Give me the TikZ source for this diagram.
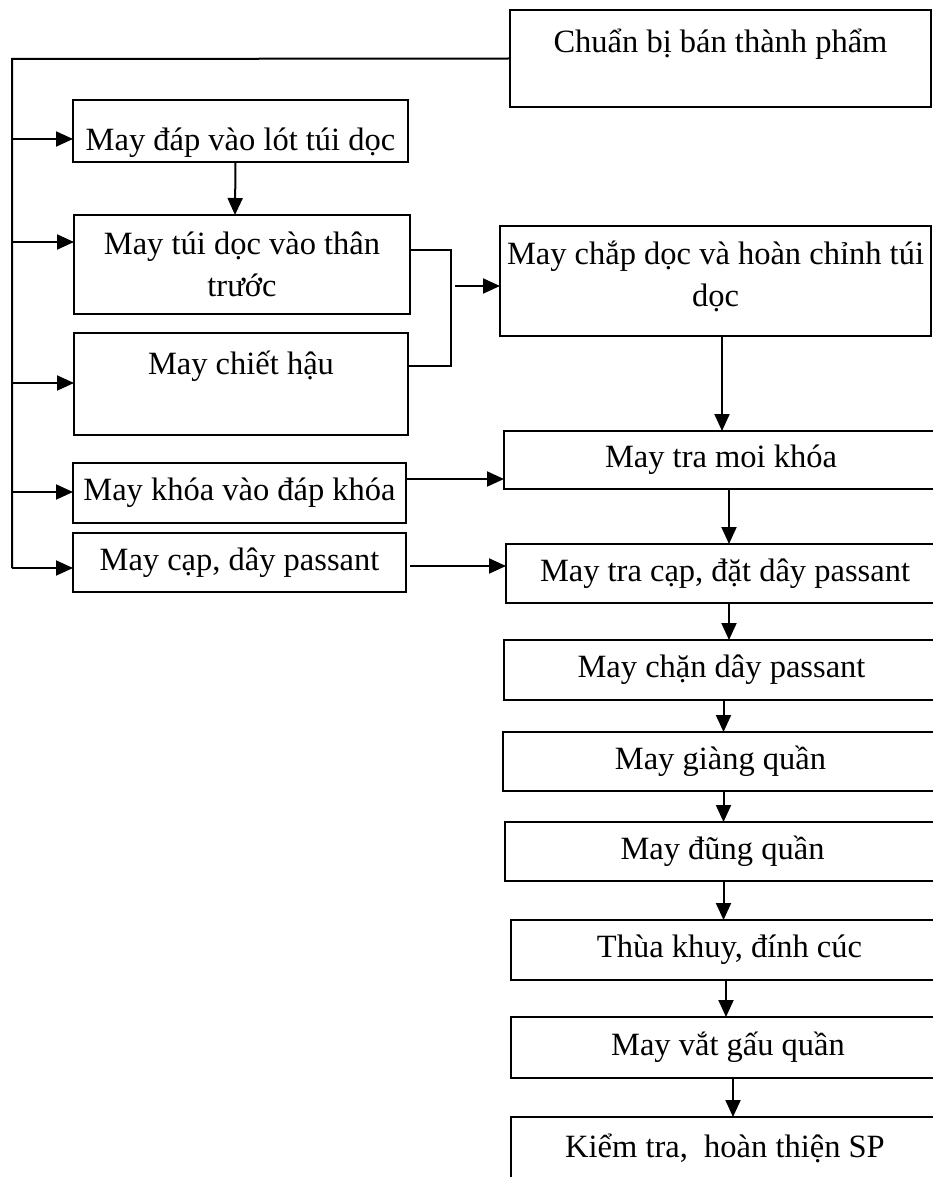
\documentclass[tikz,border=0pt]{standalone}
\usepackage{fontspec}
\setmainfont{Liberation Serif}
\usetikzlibrary{arrows.meta}
\newcommand{\shiftline}[2]{\raisebox{#1}[\height][\depth]{#2}}
\begin{document}
\begin{tikzpicture}[x=1pt,y=-1pt,
  box/.style={draw,line width=2pt,inner sep=0pt,outer sep=0pt,align=center,
    font=\fontsize{32.5}{42}\selectfont},
  conn/.style={line width=2pt},
  arr/.style={line width=2pt,-{Triangle[length=17pt,width=15pt]}}]
\useasboundingbox (0,0) rectangle (933,1177);
\clip (0,0) rectangle (933,1177);
% boxes
\node[box,minimum width=421pt,minimum height=97pt] (chuan) at (720.5,58.5) {\shiftline{-3pt}{Chuẩn bị bán thành phẩm}\\\mbox{}};
\node[box,minimum width=335pt,minimum height=62pt] (dap) at (240.5,131) {\shiftline{-12pt}{May đáp vào lót túi dọc}};
\node[box,minimum width=336pt,minimum height=99pt] (tui) at (242,264.5) {May túi dọc vào thân\\trước};
\node[box,minimum width=334pt,minimum height=102pt] (chiet) at (241,384) {May chiết hậu\\\mbox{}};
\node[box,minimum width=333pt,minimum height=60pt] (khoa) at (239.5,493) {May khóa vào đáp khóa};
\node[box,minimum width=333pt,minimum height=59pt] (cap) at (239.5,562.5) {May cạp, dây passant};
\node[box,minimum width=431pt,minimum height=110pt] (chap) at (715.5,281) {\shiftline{5pt}{May chắp dọc và hoàn chỉnh túi}\\\shiftline{5pt}{dọc}};
\node[box,minimum width=434pt,minimum height=58pt] (moikhoa) at (721,460) {May tra moi khóa};
\node[box,minimum width=438pt,minimum height=59pt] (tracap) at (725,573.5) {May tra cạp, đặt dây passant};
\node[box,minimum width=435pt,minimum height=60pt] (chan) at (721.5,670) {May chặn dây passant};
\node[box,minimum width=435pt,minimum height=59pt] (giang) at (720.5,761.5) {May giàng quần};
\node[box,minimum width=435pt,minimum height=59pt] (dung) at (722.5,851.5) {May đũng quần};
\node[box,minimum width=437pt,minimum height=60pt] (thua) at (729.5,950) {Thùa khuy, đính cúc};
\node[box,minimum width=434pt,minimum height=61pt] (vat) at (728,1047.5) {May vắt gấu quần};
\node[box,minimum width=428pt,minimum height=62pt] (kiem) at (725,1148) {Kiểm tra,~ hoàn thiện SP};
% trunk
\coordinate (tl) at (12,59);
\coordinate (bl) at (12,568);
\draw[conn] (chuan.west) -- (tl) -- (bl);
\coordinate (t1) at (12,139);
\coordinate (t2) at (12,242);
\coordinate (t3) at (12,383);
\coordinate (t4) at (12,492);
\draw[arr] (t1) -- (t1 -| dap.west);
\draw[arr] (t2) -- (t2 -| tui.west);
\draw[arr] (t3) -- (t3 -| chiet.west);
\draw[arr] (t4) -- (t4 -| khoa.west);
\draw[arr] (bl) -- (bl -| cap.west);
% dap -> tui
\draw[arr] ([xshift=-5pt]dap.south) -- ([xshift=-7pt]tui.north);
% bracket
\coordinate (b1) at (451,250);
\coordinate (b2) at (451,366);
\coordinate (bm) at (455,286);
\draw[conn] (b1 -| tui.east) -- (b1) -- (b2) -- (b2 -| chiet.east);
\draw[arr] (bm) -- (bm -| chap.west);
% khoa, cap -> right
\coordinate (k1) at (0,479);
\draw[arr] (k1 -| khoa.east) -- (k1 -| moikhoa.west);
\coordinate (c1) at (410,566);
\draw[arr] (c1) -- (c1 -| tracap.west);
% vertical chain
\coordinate (v1) at (722,0);
\draw[arr] (v1 |- chap.south) -- (v1 |- moikhoa.north);
\coordinate (v2) at (729,0);
\draw[arr] (v2 |- moikhoa.south) -- (v2 |- tracap.north);
\draw[arr] (v2 |- tracap.south) -- (v2 |- chan.north);
\coordinate (v3) at (723.5,0);
\draw[arr] (v3 |- chan.south) -- (v3 |- giang.north);
\draw[arr] (v3 |- giang.south) -- (v3 |- dung.north);
\draw[arr] (v3 |- dung.south) -- (v3 |- thua.north);
\coordinate (v4) at (726,0);
\draw[arr] (v4 |- thua.south) -- (v4 |- vat.north);
\coordinate (v5) at (733,0);
\draw[arr] (v5 |- vat.south) -- (v5 |- kiem.north);
\end{tikzpicture}
\end{document}
